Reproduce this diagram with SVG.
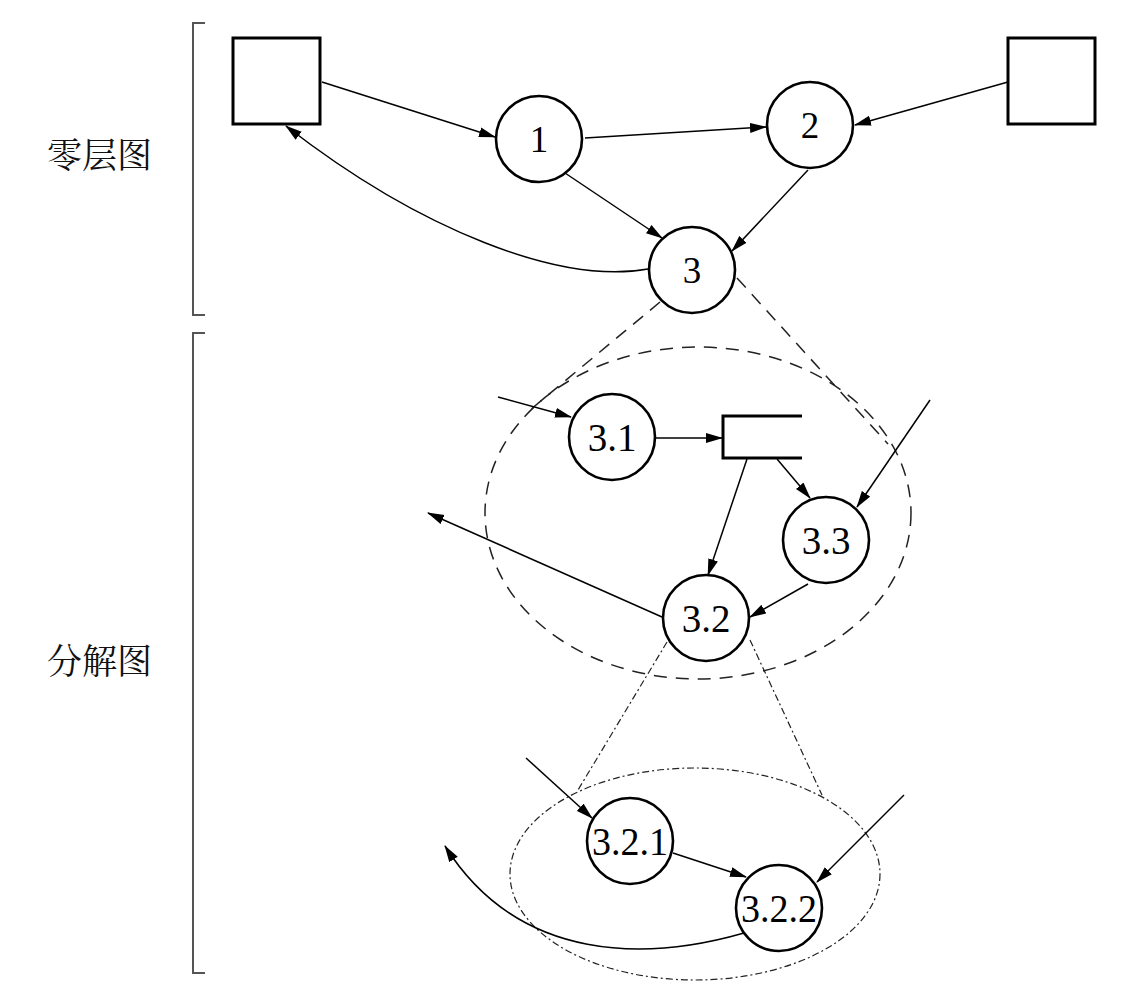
<svg xmlns="http://www.w3.org/2000/svg" width="1125" height="993" viewBox="0 0 1125 993">
<defs>
<marker id="arr" markerWidth="17" markerHeight="11" refX="16" refY="5.5" orient="auto" markerUnits="userSpaceOnUse">
<path d="M0,0.5 L17,5.5 L0,10.5 z" fill="#000"/>
</marker>
<style>
.node{fill:#fff;stroke:#000;stroke-width:2.6}
.box{fill:#fff;stroke:#000;stroke-width:3}
.lbl{font-family:"Liberation Serif","Times New Roman",serif;fill:#000;text-anchor:middle}
.cjk{font-family:"Noto Serif CJK SC","Noto Sans CJK SC",serif;font-size:35px;fill:#111}
.edge{fill:none;stroke:#000;stroke-width:1.5}
.dash{fill:none;stroke:#222;stroke-width:1.5;stroke-dasharray:13 9}
.dashdot{fill:none;stroke:#222;stroke-width:1.2;stroke-dasharray:7 3 2 3}
.bracket{fill:none;stroke:#555;stroke-width:2}
</style>
</defs>
<rect width="1125" height="993" fill="#fff"/>

<g id="brackets">
<path class="bracket" d="M205,23 H193 V315 H205"/>
<path class="bracket" d="M205,333 H193 V973 H205"/>
</g>
<g id="labels">
<text class="cjk" x="47" y="168">零层图</text>
<text class="cjk" x="47" y="674">分解图</text>
</g>

<g id="guides">
<line class="dash" x1="660" y1="302" x2="530" y2="410"/>
<line class="dash" x1="737" y1="278" x2="888" y2="444"/>
<ellipse class="dash" cx="698" cy="513" rx="213" ry="166"/>
<line class="dashdot" x1="667" y1="642" x2="578" y2="790"/>
<line class="dashdot" x1="750" y1="640" x2="822" y2="795"/>
<ellipse class="dashdot" cx="695" cy="874" rx="185" ry="106"/>
</g>

<g id="connectors">
<line class="edge" x1="322" y1="82" x2="495" y2="137" marker-end="url(#arr)"/>
<path class="edge" d="M648,269 C560,285 420,230 286,126" marker-end="url(#arr)"/>
<line class="edge" x1="585" y1="138" x2="766" y2="127" marker-end="url(#arr)"/>
<line class="edge" x1="565" y1="173" x2="662" y2="238" marker-end="url(#arr)"/>
<line class="edge" x1="808" y1="170" x2="732" y2="251" marker-end="url(#arr)"/>
<line class="edge" x1="1008" y1="82" x2="855" y2="125" marker-end="url(#arr)"/>
<line class="edge" x1="498" y1="397" x2="571" y2="417" marker-end="url(#arr)"/>
<line class="edge" x1="655" y1="438" x2="722" y2="438" marker-end="url(#arr)"/>
<line class="edge" x1="747" y1="459" x2="708" y2="575" marker-end="url(#arr)"/>
<line class="edge" x1="777" y1="459" x2="810" y2="498" marker-end="url(#arr)"/>
<line class="edge" x1="930" y1="400" x2="857" y2="507" marker-end="url(#arr)"/>
<line class="edge" x1="808" y1="584" x2="750" y2="617" marker-end="url(#arr)"/>
<line class="edge" x1="662" y1="617" x2="428" y2="513" marker-end="url(#arr)"/>
<line class="edge" x1="526" y1="758" x2="592" y2="818" marker-end="url(#arr)"/>
<line class="edge" x1="673" y1="853" x2="746" y2="877" marker-end="url(#arr)"/>
<line class="edge" x1="904" y1="795" x2="817" y2="882" marker-end="url(#arr)"/>
<path class="edge" d="M744,933 C650,960 520,965 445,846" marker-end="url(#arr)"/>
</g>

<g id="ext1"><rect class="box" x="233" y="38" width="87" height="86"/></g>
<g id="ext2"><rect class="box" x="1008" y="38" width="87" height="86"/></g>

<g id="p1"><circle class="node" cx="539" cy="139" r="43"/><text class="lbl" x="539" y="152" font-size="37">1</text></g>
<g id="p2"><circle class="node" cx="810" cy="125" r="43"/><text class="lbl" x="810" y="138" font-size="37">2</text></g>
<g id="p3"><circle class="node" cx="692" cy="270" r="43"/><text class="lbl" x="692" y="283" font-size="37">3</text></g>

<g id="p3_1"><circle class="node" cx="612" cy="437" r="43"/><text class="lbl" x="612" y="451" font-size="39">3.1</text></g>
<g id="p3_3"><circle class="node" cx="826" cy="540" r="43"/><text class="lbl" x="826" y="554" font-size="39">3.3</text></g>
<g id="store"><path d="M802,416 H723 V458 H802" fill="#fff" stroke="#000" stroke-width="3"/></g>
<g id="p3_2"><circle class="node" cx="706" cy="618" r="43"/><text class="lbl" x="706" y="632" font-size="39">3.2</text></g>

<g id="p3_2_1"><circle class="node" cx="630" cy="841" r="43"/><text class="lbl" x="630" y="855" font-size="39" textLength="76" lengthAdjust="spacingAndGlyphs">3.2.1</text></g>
<g id="p3_2_2"><circle class="node" cx="779" cy="908" r="43"/><text class="lbl" x="779" y="922" font-size="39" textLength="76" lengthAdjust="spacingAndGlyphs">3.2.2</text></g>
</svg>
